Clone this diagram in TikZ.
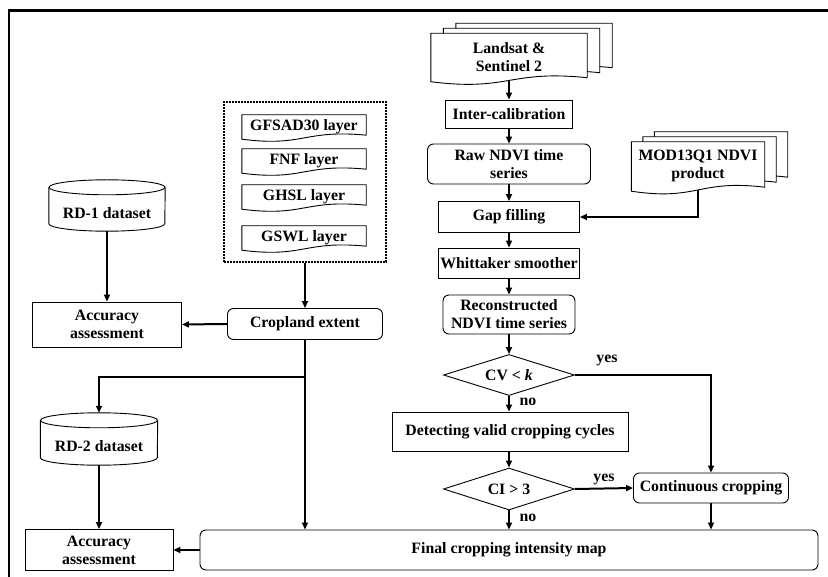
\documentclass[tikz,border=0pt]{standalone}
\usepackage{fontspec}
\setmainfont{Liberation Serif}
\usetikzlibrary{arrows.meta,shapes.geometric,backgrounds}
\newcommand\docshape[4]{% name, wave amplitude, dx, dy
  \draw[boxline,fill=white]
    ([xshift=#3,yshift=#4-1pt]#1.south west) -- ([xshift=#3,yshift=#4]#1.north west)
    -- ([xshift=#3,yshift=#4]#1.north east) -- ([xshift=#3,yshift=#4+3pt]#1.south east)
    .. controls ([xshift=#3,yshift=#4+#2]#1.south) and ([xshift=#3,yshift=#4-#2]#1.south)
    .. ([xshift=#3,yshift=#4-1pt]#1.south west) -- cycle;}
\newcommand\cylshape[3]{% name, x radius, y radius
  \draw[boxline] ([yshift=#3]#1.north west) -- ([yshift=#3]#1.south west)
    arc[start angle=180, end angle=360, x radius=#2, y radius=#3]
    -- ([yshift=#3]#1.north east);
  \draw[boxline] ([yshift=#3]#1.north) ellipse [x radius=#2, y radius=#3];}
\begin{document}
\begin{tikzpicture}[x=1pt,y=-1pt,
  every node/.style={font=\fontsize{15.8}{18}\selectfont\bfseries, inner sep=0pt, align=center},
  boxline/.style={line width=0.9pt},
  plainbox/.style={draw, boxline, rectangle},
  roundbox/.style={plainbox, rounded corners=6pt},
  ghost/.style={rectangle},
  decision/.style={draw, boxline, diamond, aspect=3.2},
  conn/.style={line width=2pt, -{Triangle[length=7pt,width=6pt]}}]
\useasboundingbox (0,0) rectangle (828,577);
% frame (top and left edges)
\draw[line width=2.6pt] (8.8,578) -- (8.8,10.7) -- (829,10.7);

% ---- left part
\node[ghost, minimum width=124pt, minimum height=23pt] (gfsad) at (304,126.5) {GFSAD30 layer};
\node[ghost, minimum width=124pt, minimum height=23pt] (fnf) at (304,160.5) {FNF layer};
\node[ghost, minimum width=124pt, minimum height=23pt] (ghsl) at (304,196.5) {GHSL layer};
\node[ghost, minimum width=124pt, minimum height=23pt] (gswl) at (304,237.5) {GSWL layer};
\node[draw, line width=1.6pt, dash pattern=on 1.6pt off 1.4pt, minimum width=162pt, minimum height=160pt] (layers) at (305,182) {};

\node[ghost, minimum width=116pt, minimum height=36pt] (rd1) at (107,213) {RD-1 dataset};
\cylshape{rd1}{58pt}{7.5pt}
\node[plainbox, minimum width=149pt, minimum height=45pt] (acc1) at (107,324.5) {Accuracy\\assessment};
\node[roundbox, minimum width=155pt, minimum height=31pt] (crop) at (305,324) {Cropland extent};
\node[ghost, minimum width=117pt, minimum height=37pt] (rd2) at (99,446.5) {RD-2 dataset};
\cylshape{rd2}{58.5pt}{7.5pt}
\node[plainbox, minimum width=148pt, minimum height=41pt] (acc2) at (99,550) {Accuracy\\assessment};
\node[roundbox, minimum width=618pt, minimum height=40pt] (final) at (509,550) {Final cropping intensity map};

% ---- right column
\node[ghost, minimum width=156pt, minimum height=47pt] (ls) at (509,57) {Landsat \&\\Sentinel 2};
\node[ghost, minimum width=133pt, minimum height=48pt] (mod) at (698,166) {MOD13Q1 NDVI\\product};
\begin{pgfonlayer}{background}
\docshape{gfsad}{9pt}{0pt}{0pt}
\docshape{fnf}{9pt}{0pt}{0pt}
\docshape{ghsl}{9pt}{0pt}{0pt}
\docshape{gswl}{9pt}{0pt}{0pt}
\docshape{ls}{11pt}{25pt}{10pt}
\docshape{ls}{11pt}{12.5pt}{5pt}
\docshape{ls}{11pt}{0pt}{0pt}
\docshape{mod}{11pt}{23pt}{10pt}
\docshape{mod}{11pt}{11.5pt}{5pt}
\docshape{mod}{11pt}{0pt}{0pt}
\end{pgfonlayer}
\node[plainbox, minimum width=127pt, minimum height=28pt] (inter) at (509,114) {Inter-calibration};
\node[roundbox, minimum width=163pt, minimum height=40pt] (raw) at (509,164) {Raw NDVI time\\series};
\node[plainbox, minimum width=141pt, minimum height=31pt] (gap) at (509,217) {Gap filling};
\node[plainbox, minimum width=141pt, minimum height=30pt] (whit) at (509,263) {Whittaker smoother};
\node[roundbox, minimum width=132pt, minimum height=39pt] (recon) at (509,314.5) {Reconstructed\\NDVI time series};
\node[decision, minimum width=131pt, minimum height=41pt] (cv) at (509,375) {CV < \textit{k}};
\node[plainbox, minimum width=236pt, minimum height=39pt] (detect) at (510,431.5) {Detecting valid cropping cycles};
\node[decision, minimum width=131pt, minimum height=42pt] (ci) at (509,489) {CI > 3};
\node[roundbox, minimum width=155pt, minimum height=30pt] (cont) at (711,488) {Continuous cropping};

\node (yes1) at (607,360) {yes};
\node (no1) at (528,402) {no};
\node (yes2) at (604,479) {yes};
\node (no2) at (528,518) {no};

% ---- connectors
\draw[conn] (ls.south) -- (inter.north);
\draw[conn] (inter) -- (raw);
\draw[conn] (raw) -- (gap);
\draw[conn] (gap) -- (whit);
\draw[conn] (whit) -- (recon);
\draw[conn] (recon) -- (cv);
\draw[conn] (cv.south) -- (cv.south |- detect.north);
\draw[conn] (detect.south -| ci.north) -- (ci.north);
\draw[conn] (ci.south) -- (ci.south |- final.north);
\draw[conn] (mod.south) |- (gap.east);
\draw[conn] (cv.east) -| (cont.north);
\draw[conn] (ci.east) -- (cont.west);
\draw[conn] (cont.south) -- (cont.south |- final.north);

\draw[conn] (layers.south) -- (layers.south |- crop.north);
\draw[conn] (rd1.south) -- (rd1.south |- acc1.north);
\draw[conn] (crop.west) -- (acc1.east);
\coordinate (br) at (305,377);
\draw[conn] (crop.south) -- (crop.south |- final.north);
\draw[conn] (br) -| ([yshift=15pt]rd2.north);
\draw[conn] (rd2.south) -- (rd2.south |- acc2.north);
\draw[conn] (final.west |- acc2.east) -- (acc2.east);
\end{tikzpicture}
\end{document}
